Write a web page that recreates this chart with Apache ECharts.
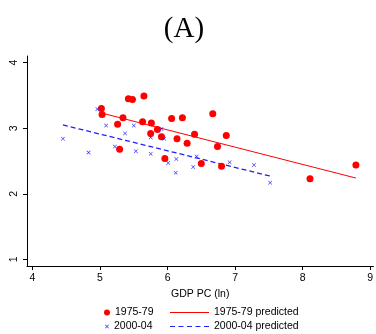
<!DOCTYPE html>
<html>
<head>
<meta charset="utf-8">
<script src="https://cdn.jsdelivr.net/npm/echarts@6/dist/echarts.min.js"></script>
<style>
  html, body { margin: 0; padding: 0; background: #fff; }
  #chart { width: 376px; height: 334px; }
</style>
</head>
<body>
<div id="chart"></div>
<script>
// 1975-79 observations [ln GDP pc, value]
const obs7579 = [
  [5.02, 3.30], [5.03, 3.21], [5.42, 3.45], [5.48, 3.44], [5.65, 3.49],
  [5.34, 3.16], [5.26, 3.06], [5.29, 2.68], [5.63, 3.10], [5.76, 3.08],
  [5.75, 2.92], [5.85, 2.98], [5.91, 2.87], [5.96, 2.54], [6.06, 3.15],
  [6.14, 2.84], [6.22, 3.16], [6.29, 2.77], [6.40, 2.91], [6.50, 2.46],
  [6.67, 3.22], [6.74, 2.72], [6.80, 2.42], [6.87, 2.89], [8.11, 2.23],
  [8.79, 2.44]
]
// 2000-04 observations
const obs0004 = [
  [4.45, 2.84], [4.83, 2.63], [4.96, 3.29], [5.09, 3.04], [5.22, 2.72],
  [5.37, 2.92], [5.50, 3.04], [5.53, 2.65], [5.75, 2.86], [5.75, 2.61],
  [5.91, 2.99], [5.95, 2.84], [6.01, 2.47], [6.13, 2.53], [6.12, 2.32],
  [6.38, 2.41], [6.43, 2.57], [6.92, 2.48], [7.28, 2.44], [7.52, 2.17]
]
// fitted lines (end points)
const fit7579 = [[5.03, 3.23], [8.79, 2.24]]
const fit0004 = [[4.45, 3.05], [7.52, 2.27]]

const xTicks = [4, 5, 6, 7, 8, 9]
const yTicks = [1, 2, 3, 4]

const FONT = 'Liberation Sans'
const crossPath = 'path://M0,1L1,0L5,4L9,0L10,1L6,5L10,9L9,10L5,6L1,10L0,9L4,5Z'
// legend keys for the fitted lines (line series would add a dot otherwise)
const solidKey = 'path://M0,0h39v1h-39z'
const dashKey = 'path://M0,0h5v1h-5zM8.5,0h5v1h-5zM17,0h5v1h-5zM25.5,0h5v1h-5zM34,0h5v1h-5z'

const chart = echarts.init(document.getElementById('chart'))

const legendBase = {
  orient: 'horizontal',
  padding: 0,
  textStyle: { fontFamily: FONT, fontSize: 10.5, color: '#000' },
  selectedMode: false
}

chart.setOption({
  animation: false,
  backgroundColor: '#fff',
  title: {
    text: '(A)',
    left: 179,
    textAlign: 'center',
    top: 10,
    textStyle: { fontFamily: 'Liberation Serif', fontSize: 29, fontWeight: 'normal', color: '#000' }
  },
  grid: { left: 27, right: 0, top: 56, bottom: 68 },
  legend: [
    Object.assign({}, legendBase, { data: [{ name: '1975-79', icon: 'circle' }], left: 104, top: 307, itemWidth: 6, itemHeight: 6 }),
    Object.assign({}, legendBase, { data: [{ name: '1975-79 predicted', icon: solidKey }], left: 170, top: 307, itemWidth: 39, itemHeight: 1 }),
    Object.assign({}, legendBase, { data: [{ name: '2000-04', icon: crossPath }], left: 105, top: 321, itemWidth: 4, itemHeight: 4 }),
    Object.assign({}, legendBase, { data: [{ name: '2000-04 predicted', icon: dashKey }], left: 170, top: 321, itemWidth: 39, itemHeight: 1.3 })
  ],
  xAxis: {
    type: 'value',
    min: 3.918,
    max: 9.05,
    name: 'GDP PC (ln)',
    nameLocation: 'middle',
    nameGap: 19,
    nameTextStyle: { fontFamily: FONT, fontSize: 10.5, color: '#000' },
    splitLine: { show: false },
    axisLine: { show: true, onZero: false, lineStyle: { color: '#000', width: 1 } },
    axisTick: { show: true, length: 4, customValues: xTicks, lineStyle: { color: '#000' } },
    axisLabel: { customValues: xTicks, margin: 7, fontFamily: FONT, fontSize: 10.5, color: '#000' }
  },
  yAxis: {
    type: 'value',
    min: 0.898,
    max: 4.102,
    splitLine: { show: false },
    axisLine: { show: true, onZero: false, lineStyle: { color: '#000', width: 1 } },
    axisTick: { show: true, length: 4, customValues: yTicks, lineStyle: { color: '#000' } },
    axisLabel: { customValues: yTicks, rotate: 90, margin: 7, fontFamily: FONT, fontSize: 10.5, color: '#000' }
  },
  series: [
    {
      name: '1975-79 predicted',
      type: 'line',
      data: fit7579,
      symbol: 'none',
      lineStyle: { color: '#ff0000', width: 1 },
      itemStyle: { color: '#ff0000' },
      z: 2
    },
    {
      name: '2000-04 predicted',
      type: 'line',
      data: fit0004,
      symbol: 'none',
      lineStyle: { color: '#2020ff', width: 1.3, type: [5, 3] },
      itemStyle: { color: '#2020ff' },
      z: 2
    },
    {
      name: '1975-79',
      type: 'scatter',
      data: obs7579,
      symbol: 'circle',
      symbolSize: 7,
      itemStyle: { color: '#ff0000', opacity: 1 },
      z: 3
    },
    {
      name: '2000-04',
      type: 'scatter',
      data: obs0004,
      symbol: crossPath,
      symbolSize: 4,
      itemStyle: { color: '#2020ff', opacity: 1 },
      z: 4
    }
  ]
})
</script>
</body>
</html>
